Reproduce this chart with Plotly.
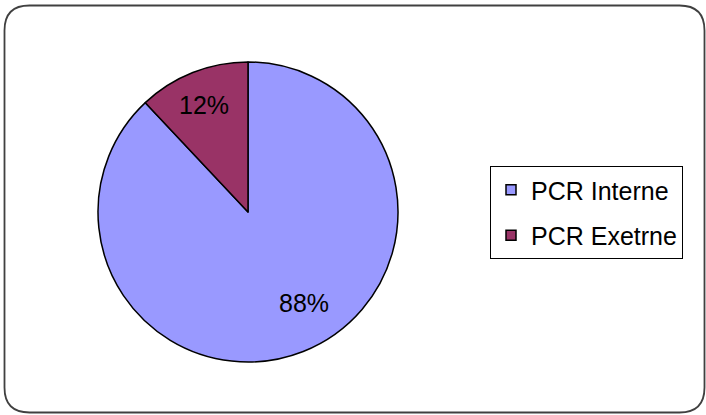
import math
import plotly.graph_objects as go

labels = ["PCR Interne", "PCR Exetrne"]
values = [88, 12]
colors = ["#9999FF", "#993366"]

W, H = 706, 415
CX, CY, R = 248, 212, 150  # pie centre / radius in pixels
FONT = "Liberation Sans, Arial, sans-serif"
# label placement tweaks (angle shift in degrees, radial fraction) per slice
LABEL_TWEAK = [(10.0, 0.71), (1.0, 0.77)]

fig = go.Figure()

fig.add_trace(go.Pie(
    labels=labels, values=values, sort=False, direction="clockwise", rotation=0,
    marker=dict(colors=colors, line=dict(color="#000000", width=1.5)),
    textinfo="none",
    domain=dict(x=[(CX - R) / W, (CX + R) / W], y=[(H - CY - R) / H, (H - CY + R) / H]),
    showlegend=False, hoverinfo="label+percent",
))

# percentage labels placed along each slice's mid-angle
total = sum(values)
start = 90.0
for v, (shift, frac) in zip(values, LABEL_TWEAK):
    sweep = 360.0 * v / total
    mid = math.radians(start - sweep / 2 + shift)
    start -= sweep
    rr = frac * R
    x = CX + rr * math.cos(mid)
    y = CY - rr * math.sin(mid)
    fig.add_annotation(x=x / W, y=1 - y / H, xref="paper", yref="paper",
                       text=f"{100 * v / total:.0f}%", showarrow=False,
                       xanchor="center", yanchor="middle",
                       font=dict(family=FONT, size=25, color="#000000"))

# legend entries (one group per category for spacing)
for i, (lab, col) in enumerate(zip(labels, colors)):
    fig.add_trace(go.Scatter(
        x=[None], y=[None], mode="markers", name=lab, legendgroup=f"g{i}",
        marker=dict(symbol="square", size=10, color=col, line=dict(color="#000000", width=1.5)),
        showlegend=True,
    ))

# rounded outer border
r = 25
x0, x1, y0, y1 = 4.5, 704.5, 5.5, 412.5
def px(x): return x / W
def py(y): return 1 - y / H
path = (f"M {px(x0 + r)},{py(y0)} L {px(x1 - r)},{py(y0)} Q {px(x1)},{py(y0)} {px(x1)},{py(y0 + r)} "
        f"L {px(x1)},{py(y1 - r)} Q {px(x1)},{py(y1)} {px(x1 - r)},{py(y1)} "
        f"L {px(x0 + r)},{py(y1)} Q {px(x0)},{py(y1)} {px(x0)},{py(y1 - r)} "
        f"L {px(x0)},{py(y0 + r)} Q {px(x0)},{py(y0)} {px(x0 + r)},{py(y0)} Z")
fig.add_shape(type="path", path=path, xref="paper", yref="paper",
              line=dict(color="#404040", width=1.8), fillcolor="rgba(0,0,0,0)", layer="above")

fig.update_layout(
    width=W, height=H, margin=dict(l=0, r=0, t=0, b=0),
    paper_bgcolor="#FFFFFF", plot_bgcolor="#FFFFFF",
    xaxis=dict(visible=False), yaxis=dict(visible=False),
    showlegend=True,
    legend=dict(
        x=490 / W, y=1 - 166 / H, xanchor="left", yanchor="top",
        bordercolor="#000000", borderwidth=1, bgcolor="#FFFFFF",
        font=dict(family=FONT, size=25, color="#000000"),
        tracegroupgap=10, traceorder="grouped", itemclick=False, itemdoubleclick=False,
    ),
)

fig.write_html("out.html", config={"displayModeBar": False},
               post_script="document.body.style.margin='0';document.body.style.padding='0';")
